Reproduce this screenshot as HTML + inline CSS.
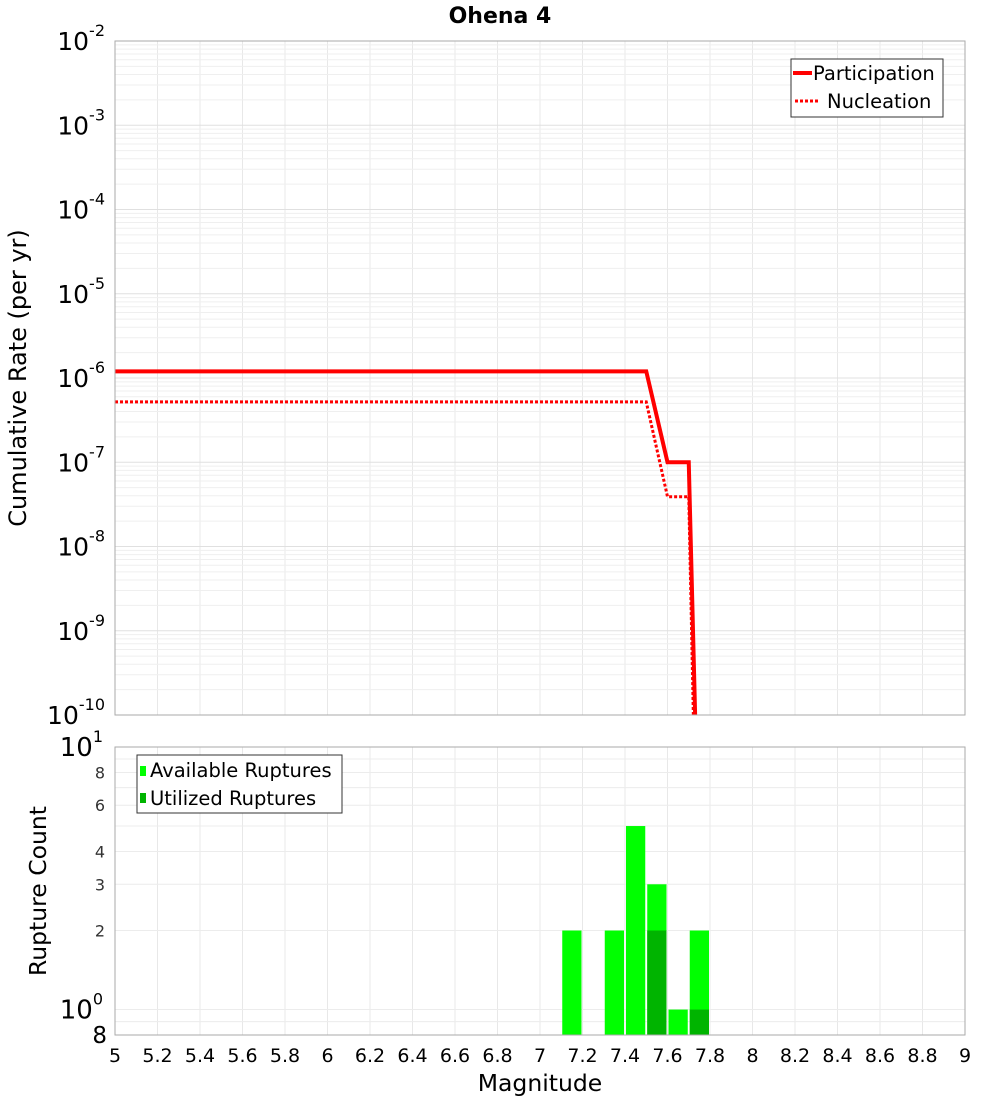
<!DOCTYPE html>
<html><head><meta charset="utf-8"><style>
body{margin:0;background:#fff;}
text{font-family:"DejaVu Sans","Liberation Sans",sans-serif;}
</style></head><body>
<svg id="chart" width="1000" height="1100" xmlns="http://www.w3.org/2000/svg">
<g id="grid"></g><g id="marks"></g><g id="axes"></g>
</svg>
<script>
const xTicks=[5,5.2,5.4,5.6,5.8,6,6.2,6.4,6.6,6.8,7,7.2,7.4,7.6,7.8,8,8.2,8.4,8.6,8.8,9];
const topExps=[-2,-3,-4,-5,-6,-7,-8,-9,-10];
const partMag=[5,7.5,7.6,7.7,7.74];
const partRate=[1.2e-6,1.2e-6,1.0e-7,1.0e-7,1e-11];
const nuclMag=[5,7.5,7.6,7.7,7.73];
const nuclRate=[5.2e-7,5.2e-7,3.9e-8,3.9e-8,1e-11];
const binStart=[7.1,7.3,7.4,7.5,7.6,7.7];
const availCount=[2,2,5,3,1,2];
const usedCount=[0,0,0,2,0,1];
const botMajor=[1,10];
const botMinorLabels=[0.8,2,3,4,6,8];
const NS="http://www.w3.org/2000/svg";
const L=115,R=965,T1=41,B1=715,T2=747,B2=1035;
const X=m=>L+(m-5)/4*(R-L);
const Y1=v=>T1+(-2-Math.log10(v))/8*(B1-T1);
const Y2=v=>T2+(1-Math.log10(v))/(1-Math.log10(0.8))*(B2-T2);
function mk(p,tag,a,txt){const e=document.createElementNS(NS,tag);for(const k in a)e.setAttribute(k,a[k]);if(txt!==undefined)e.textContent=txt;document.getElementById(p).appendChild(e);return e;}
for(const t of xTicks){const x=X(t);
 let g=mk('grid','line',{x1:x,x2:x,y1:T1,y2:B1,stroke:'#e8e8e8'});
 g=mk('grid','line',{x1:x,x2:x,y1:T2,y2:B2,stroke:'#e8e8e8'});}
for(let e=-10;e<-2;e++)for(let k=1;k<10;k++){const y=Y1(k*Math.pow(10,e));
 const g=mk('grid','line',{x1:L,x2:R,y1:y,y2:y,stroke:k==1?'#e0e0e0':'#efefef'});}
for(const v of [0.8,0.9,1,2,3,4,5,6,7,8,9,10]){const y=Y2(v);
 const g=mk('grid','line',{x1:L,x2:R,y1:y,y2:y,stroke:'#ececec'});}
const bw=(X(5.1)-X(5))-2;
for(let i=0;i<binStart.length;i++){const x=X(binStart[i])+1;
 let b=mk('marks','rect',{x:x,y:Y2(availCount[i]),width:bw,height:B2-Y2(availCount[i]),fill:'#00ff00'});
 
 if(usedCount[i]>0){b=mk('marks','rect',{x:x,y:Y2(usedCount[i]),width:bw,height:B2-Y2(usedCount[i]),fill:'#00b400'});
 }}
const clip=mk('marks','clipPath',{id:'c1'});const cr=document.createElementNS(NS,'rect');cr.setAttribute('x',L);cr.setAttribute('y',T1);cr.setAttribute('width',R-L);cr.setAttribute('height',B1-T1);clip.appendChild(cr);
let p=mk('marks','polyline',{points:nuclMag.map((m,i)=>X(m)+','+Y1(nuclRate[i])).join(' '),fill:'none',stroke:'#ff0000','stroke-width':3,'stroke-dasharray':'3,2','clip-path':'url(#c1)'});

p=mk('marks','polyline',{points:partMag.map((m,i)=>X(m)+','+Y1(partRate[i])).join(' '),fill:'none',stroke:'#ff0000','stroke-width':4,'clip-path':'url(#c1)'});

let f=mk('axes','rect',{x:L,y:T1,width:R-L,height:B1-T1,fill:'none',stroke:'#aaa'});
f=mk('axes','rect',{x:L,y:T2,width:R-L,height:B2-T2,fill:'none',stroke:'#aaa'});
for(const e of topExps){const y=Y1(Math.pow(10,e));
 const t=mk('axes','text',{x:L-10,y:y+9,'text-anchor':'end','font-size':25});
 const a=document.createElementNS(NS,'tspan');a.textContent='10';t.appendChild(a);
 const s=document.createElementNS(NS,'tspan');s.setAttribute('dy',-14);s.setAttribute('font-size',16);s.textContent=e;t.appendChild(s);}
for(const v of botMajor){const y=Y2(v);
 const t=mk('axes','text',{x:L-12,y:y+9,'text-anchor':'end','font-size':26});
 const a=document.createElementNS(NS,'tspan');a.textContent='10';t.appendChild(a);
 const s=document.createElementNS(NS,'tspan');s.setAttribute('dy',-14);s.setAttribute('font-size',16);s.textContent=Math.log10(v);t.appendChild(s);}
for(const v of botMinorLabels){const y=Y2(v);const big=v<1;
 const t=mk('axes','text',{x:big?L-8:L-10,y:y+(big?8:6),'text-anchor':'end','font-size':big?23:16,fill:big?'#000':'#333'},v<1?'8':String(v));}
for(const tv of xTicks){const t=mk('axes','text',{x:X(tv),y:1062,'text-anchor':'middle','font-size':19},String(tv));}
</script>
<svg style="position:absolute;left:0;top:0" width="1000" height="1100">
<text x="500" y="23" text-anchor="middle" font-size="22" font-weight="bold">Ohena 4</text>
<text transform="translate(26,378) rotate(-90)" text-anchor="middle" font-size="24">Cumulative Rate (per yr)</text>
<text transform="translate(46,891) rotate(-90)" text-anchor="middle" font-size="23.5">Rupture Count</text>
<text x="540" y="1091" text-anchor="middle" font-size="23.5">Magnitude</text>
<g>
<rect x="791" y="59" width="152" height="58" fill="#fff" stroke="#333"/>
<line x1="793" y1="73" x2="812" y2="73" stroke="#f00" stroke-width="4"/>
<text x="813" y="80" font-size="19.5">Participation</text>
<line x1="795" y1="101" x2="820" y2="101" stroke="#f00" stroke-width="3" stroke-dasharray="3,2"/>
<text x="827" y="108" font-size="19.5">Nucleation</text>
</g>
<g>
<rect x="137" y="755" width="205" height="58" fill="#fff" stroke="#333"/>
<rect x="140" y="766" width="6" height="10" fill="#00ff00"/>
<text x="150" y="777" font-size="19.5">Available Ruptures</text>
<rect x="140" y="793" width="6" height="10" fill="#00b400"/>
<text x="150" y="805" font-size="19.5">Utilized Ruptures</text>
</g>
</svg>
</body></html>
